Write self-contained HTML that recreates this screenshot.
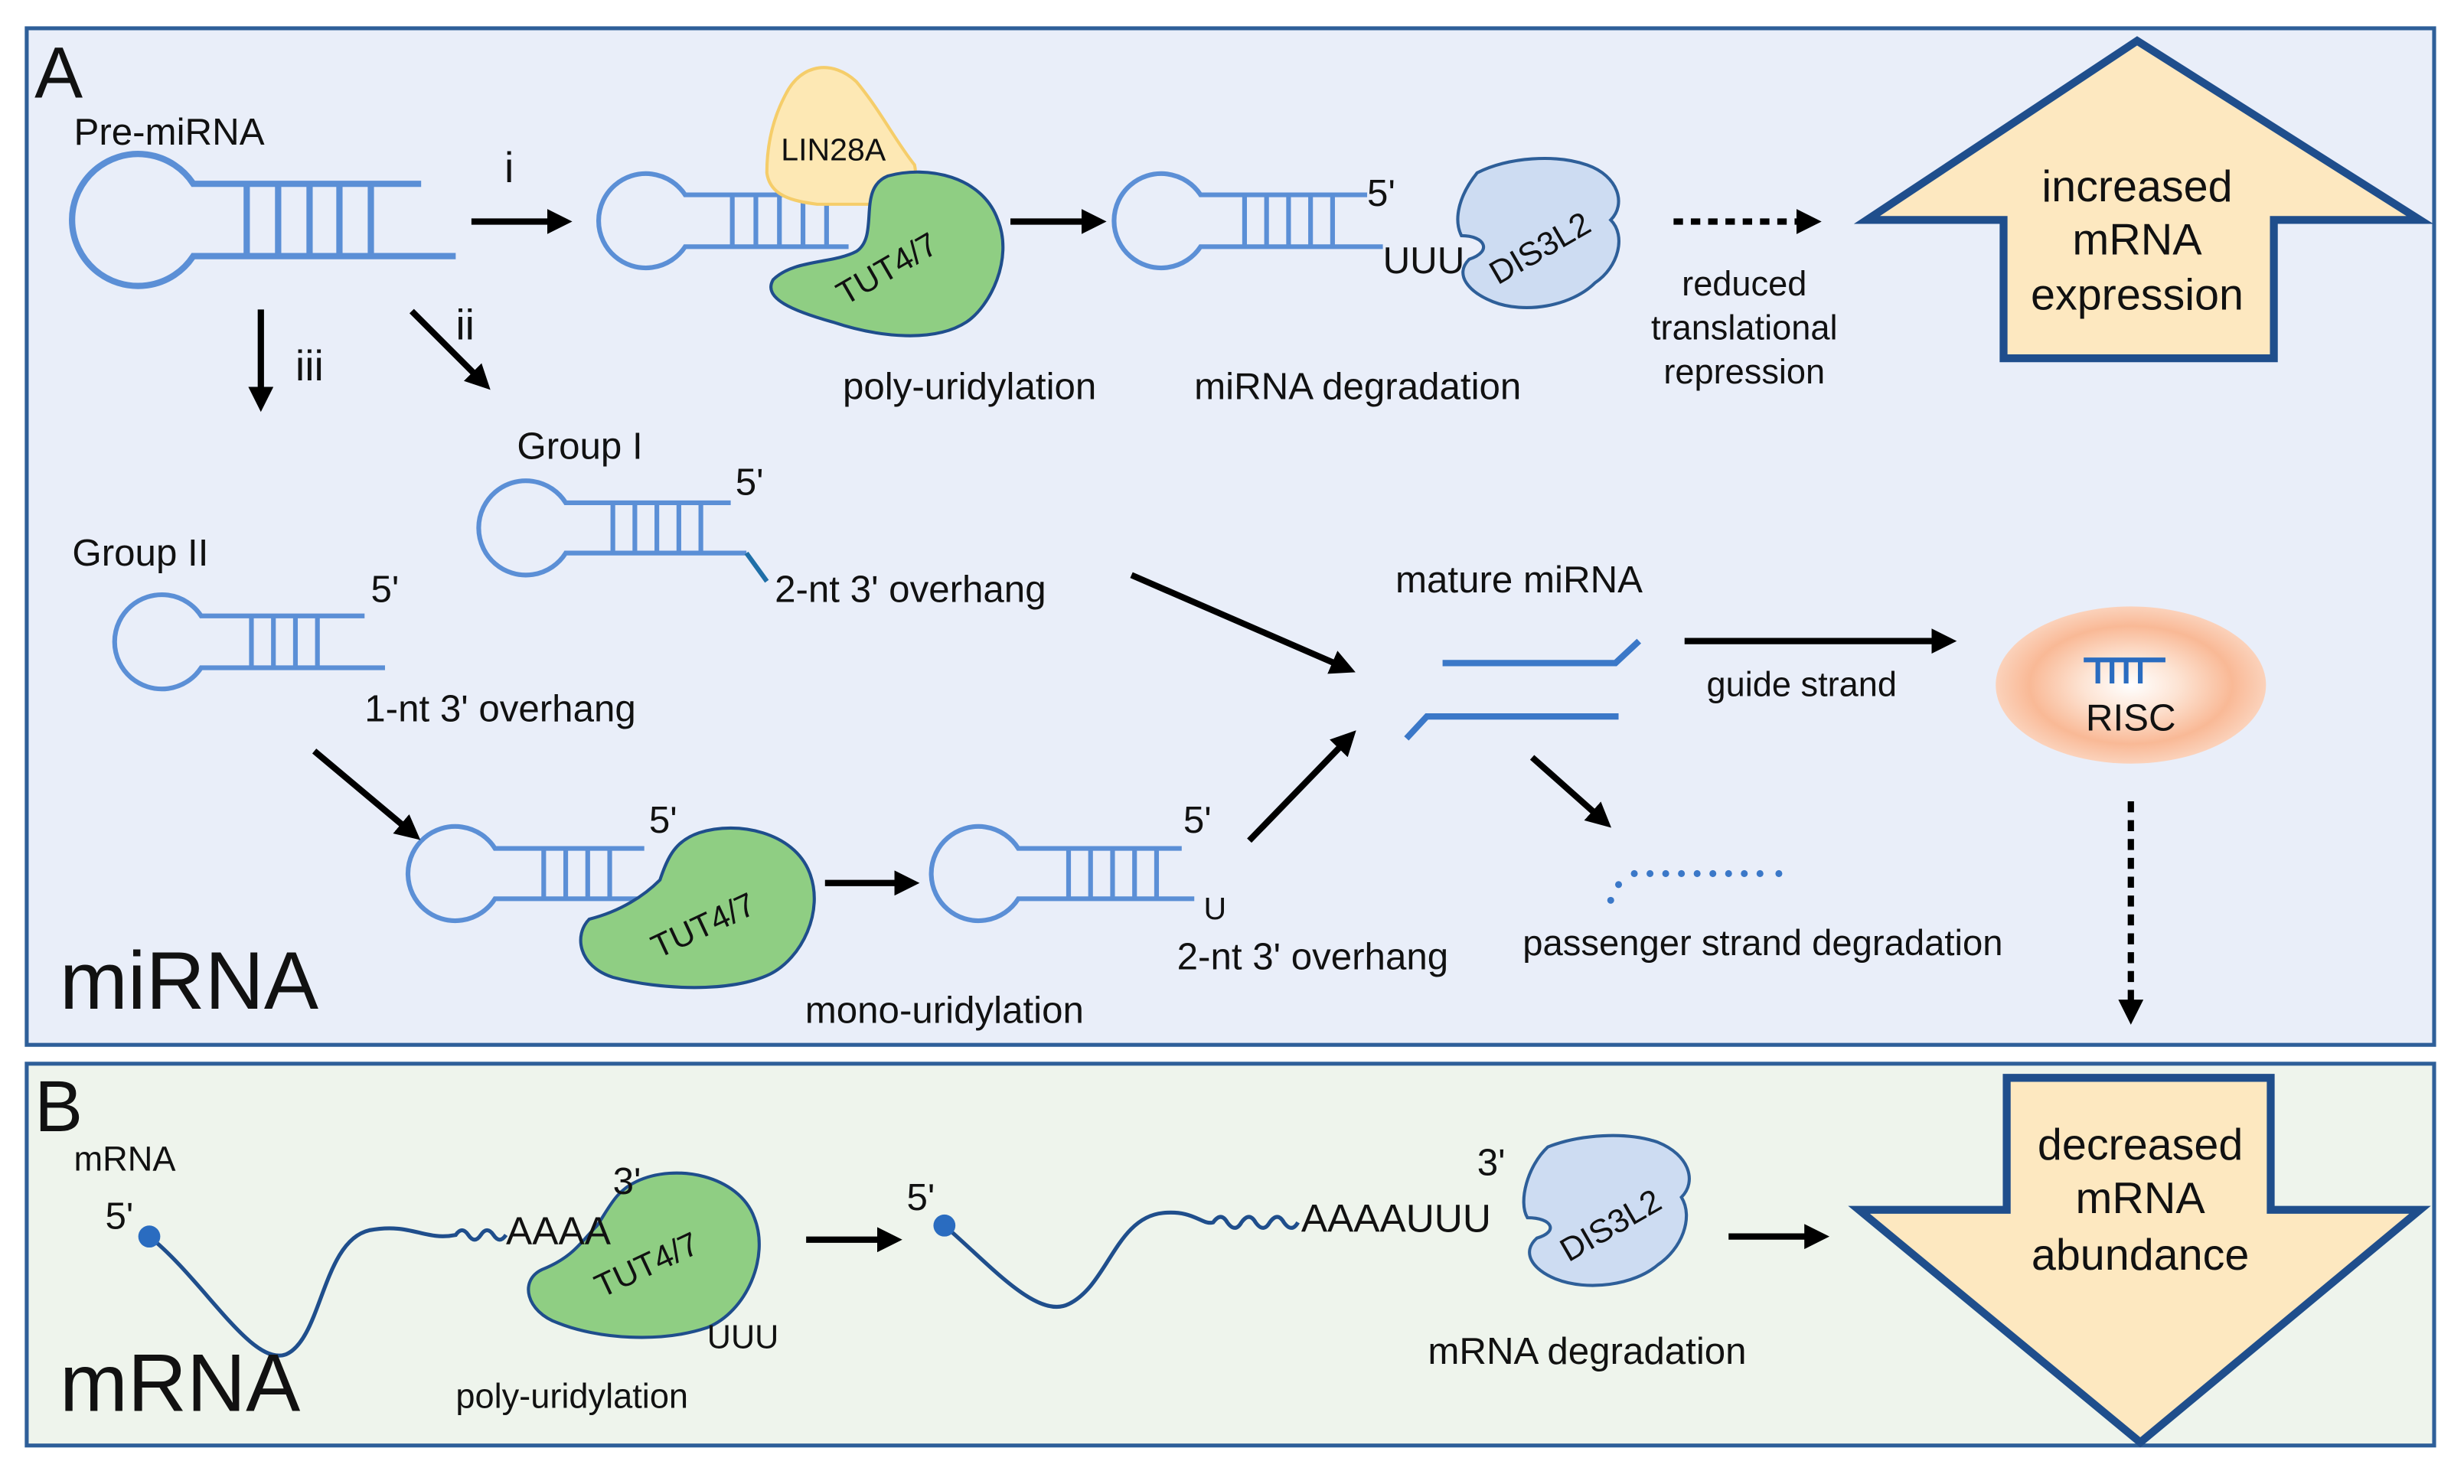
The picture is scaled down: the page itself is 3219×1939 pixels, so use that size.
<!DOCTYPE html>
<html><head><meta charset="utf-8"><style>
html,body{margin:0;padding:0;background:#fff;}
svg{display:block;font-family:"Liberation Sans",Arial,sans-serif;}
</style></head><body>
<svg width="3219" height="1939" viewBox="0 0 1568 944.5" preserveAspectRatio="none" xmlns="http://www.w3.org/2000/svg">
<defs>
<marker id="ah" markerWidth="4" markerHeight="4" refX="2.2" refY="2" orient="auto" markerUnits="strokeWidth"><path d="M0,0 L4,2 L0,4 Z" fill="#000"/></marker>
<radialGradient id="risc" cx="50%" cy="50%" r="50%"><stop offset="0" stop-color="#fff"/><stop offset="0.35" stop-color="#fde4d4"/><stop offset="0.75" stop-color="#f9b996"/><stop offset="1" stop-color="#fbd2bb"/></radialGradient>
</defs>
<rect x="0" y="0" width="1568" height="944.5" fill="#fff"/>
<rect x="17" y="18" width="1532" height="647" fill="#e9eef9" stroke="#2e5f99" stroke-width="2.5"/>
<rect x="17" y="677" width="1532" height="243" fill="#eef4ec" stroke="#2e5f99" stroke-width="2.5"/>

<g font-size="24" fill="#111">
<text x="22" y="62" font-size="46">A</text>
<text x="47" y="92">Pre-miRNA</text>
<text x="321" y="116" font-size="27">i</text>
<text x="290" y="216" font-size="27">ii</text>
<text x="188" y="242" font-size="27">iii</text>
</g>

<g fill="none" stroke="#5b8fd6" stroke-width="4">
<path d="M268,117 H123 A42,42 0 1 0 123,163 H290"/>
<path d="M157,117V163M177,117V163M197,117V163M216,117V163M236,117V163"/>
<path d="M560,124 H436 A30,30 0 1 0 436,157 H540" stroke-width="3"/>
<path d="M466,124V157M481,124V157M496,124V157M511,124V157M526,124V157" stroke-width="3"/>
<path d="M870,124 H764 A30,30 0 1 0 764,157 H880" stroke-width="3"/>
<path d="M792,124V157M806,124V157M820,124V157M834,124V157M848,124V157" stroke-width="3"/>
<path d="M465,320 H360 A30,30 0 1 0 360,352 H475" stroke-width="3"/>
<path d="M390,320V352M404,320V352M418,320V352M432,320V352M446,320V352" stroke-width="3"/>
<path d="M232,392 H128 A30,30 0 1 0 128,425 H245" stroke-width="3"/>
<path d="M160,392V425M174,392V425M188,392V425M202,392V425" stroke-width="3"/>
<path d="M410,540 H315 A30,30 0 1 0 315,572 H440" stroke-width="3"/>
<path d="M346,540V572M360,540V572M374,540V572M388,540V572" stroke-width="3"/>
<path d="M752,540 H648 A30,30 0 1 0 648,572 H760" stroke-width="3"/>
<path d="M680,540V572M694,540V572M708,540V572M722,540V572M736,540V572" stroke-width="3"/>
</g>
<path d="M475,352 L488,370" stroke="#1f6fa8" stroke-width="3" fill="none"/>

<path d="M500,60 C510,40 530,38 545,52 C560,70 570,90 582,105 C585,118 575,128 560,130 L520,130 C505,128 490,125 488,110 C488,92 492,75 500,60 Z" fill="#fde8b4" stroke="#f5cd6a" stroke-width="2"/>
<text x="497" y="102" font-size="20" fill="#111">LIN28A</text>
<path d="M565,112 C590,105 625,112 635,140 C645,165 630,195 615,205 C595,218 560,215 530,205 C505,198 485,190 492,178 C505,165 530,168 545,160 C560,150 545,120 565,112 Z" fill="#8fce83" stroke="#1f4e8c" stroke-width="2"/>
<text x="565" y="178" font-size="21" fill="#111" text-anchor="middle" transform="rotate(-30 565 172)">TUT4/7</text>

<path d="M940,110 C960,100 990,98 1010,105 C1030,112 1035,130 1025,140 C1035,150 1030,170 1015,180 C1000,195 970,200 950,192 C935,186 925,175 935,165 C950,160 945,150 930,150 C925,140 928,125 940,110 Z" fill="#cddcf2" stroke="#2e5f99" stroke-width="2"/>
<text x="980" y="165" font-size="21" fill="#111" text-anchor="middle" transform="rotate(-30 980 158)">DIS3L2</text>

<path d="M445,530 C470,522 505,530 515,555 C525,580 510,610 490,620 C465,632 420,630 390,622 C368,615 365,595 375,585 C395,580 410,570 420,560 C425,545 430,535 445,530 Z" fill="#8fce83" stroke="#1f4e8c" stroke-width="2"/>
<text x="448" y="596" font-size="21" fill="#111" text-anchor="middle" transform="rotate(-25 448 590)">TUT4/7</text>

<g font-size="24" fill="#111">
<text x="870" y="131">5'</text>
<text x="880" y="174">UUU</text>
<text x="1110" y="188" font-size="22" text-anchor="middle">reduced</text>
<text x="1110" y="216" font-size="22" text-anchor="middle">translational</text>
<text x="1110" y="244" font-size="22" text-anchor="middle">repression</text>
<text x="617" y="254" text-anchor="middle">poly-uridylation</text>
<text x="864" y="254" text-anchor="middle">miRNA degradation</text>
<text x="329" y="292">Group I</text>
<text x="468" y="315">5'</text>
<text x="493" y="383">2-nt 3' overhang</text>
<text x="46" y="360">Group II</text>
<text x="236" y="383">5'</text>
<text x="232" y="459">1-nt 3' overhang</text>
<text x="413" y="530">5'</text>
<text x="753" y="530">5'</text>
<text x="766" y="585" font-size="20">U</text>
<text x="749" y="617">2-nt 3' overhang</text>
<text x="601" y="651" text-anchor="middle">mono-uridylation</text>
<text x="38" y="642" font-size="52">miRNA</text>
<text x="888" y="377">mature miRNA</text>
<text x="1086" y="443" font-size="22">guide strand</text>
<text x="969" y="608" font-size="23">passenger strand degradation</text>
</g>

<polygon points="1360,26 1540,140 1447,140 1447,228 1275,228 1275,140 1188,140" fill="#fde8c0" stroke="#1f4e8c" stroke-width="5"/>
<g font-size="28" fill="#111" text-anchor="middle">
<text x="1360" y="128">increased</text><text x="1360" y="162">mRNA</text><text x="1360" y="197">expression</text>
</g>

<g stroke="#000" stroke-width="4" fill="none" marker-end="url(#ah)">
<path d="M300,141H357"/>
<path d="M643,141H697"/>
<path d="M166,197V255"/>
<path d="M262,198L307,243"/>
<path d="M720,366L856,425"/>
<path d="M200,478L262,530"/>
<path d="M525,562H578"/>
<path d="M795,535L858,470"/>
<path d="M1072,408H1238"/>
<path d="M975,482L1020,522"/>
<path d="M513,789H567"/>
<path d="M1100,787H1157"/>
<path d="M1065,141H1152" stroke-dasharray="6,5"/>
<path d="M1356,510V645" stroke-dasharray="7,5"/>
</g>

<g stroke="#3b78c8" stroke-width="4" fill="none">
<path d="M918,422H1028L1043,408"/>
<path d="M895,470L908,456H1030"/>
</g>
<g fill="#3b78c8">
<circle cx="1025" cy="573" r="2.2"/><circle cx="1030" cy="563" r="2.2"/>
<circle cx="1040" cy="556" r="2.2"/><circle cx="1050" cy="556" r="2.2"/><circle cx="1060" cy="556" r="2.2"/><circle cx="1070" cy="556" r="2.2"/><circle cx="1080" cy="556" r="2.2"/><circle cx="1090" cy="556" r="2.2"/><circle cx="1100" cy="556" r="2.2"/><circle cx="1110" cy="556" r="2.2"/><circle cx="1120" cy="556" r="2.2"/><circle cx="1132" cy="556" r="2.2"/>
</g>
<ellipse cx="1356" cy="436" rx="86" ry="50" fill="url(#risc)"/>
<path d="M1326,420H1378M1335,420V435M1344,420V435M1353,420V435M1362,420V435" stroke="#2a6cc0" stroke-width="3" fill="none"/>
<text x="1356" y="465" font-size="24" text-anchor="middle" fill="#111">RISC</text>

<g stroke="#1f4e8c" stroke-width="2.5" fill="none">
<path d="M95,787 C130,815 160,870 182,862 C205,852 205,790 235,783 C262,778 270,790 290,786 q4,-6 8,0 q4,6 8,0 q4,-6 8,0 q4,6 8,0"/>
<path d="M601,780 C630,805 660,840 680,830 C705,818 710,775 740,772 C760,770 765,780 772,778 q5,-7 9,0 q5,7 9,0 q5,-7 9,0 q5,7 9,0 q5,-7 9,0 q5,7 9,0"/>
</g>
<circle cx="95" cy="787" r="7" fill="#2a6cc0"/>
<circle cx="601" cy="780" r="7" fill="#2a6cc0"/>
<path d="M405,752 C430,740 470,748 480,775 C490,800 475,835 450,845 C420,855 380,852 355,842 C335,835 330,815 345,808 C365,800 370,790 380,780 C388,768 392,758 405,752 Z" fill="#8fce83" stroke="#1f4e8c" stroke-width="2"/>
<text x="412" y="812" font-size="21" fill="#111" text-anchor="middle" transform="rotate(-25 412 806)">TUT4/7</text>
<path d="M985,730 C1005,722 1035,720 1055,727 C1075,735 1080,752 1070,762 C1078,775 1070,795 1055,805 C1040,818 1010,822 990,814 C975,808 968,797 978,788 C992,784 988,775 972,775 C966,765 972,742 985,730 Z" fill="#cddcf2" stroke="#2e5f99" stroke-width="2"/>
<text x="1025" y="787" font-size="21" fill="#111" text-anchor="middle" transform="rotate(-30 1025 780)">DIS3L2</text>

<g font-size="24" fill="#111">
<text x="22" y="720" font-size="46">B</text>
<text x="47" y="745" font-size="22">mRNA</text>
<text x="67" y="782">5'</text>
<text x="322" y="792" font-size="25">AAAA</text>
<text x="390" y="760">3'</text>
<text x="450" y="858" font-size="21">UUU</text>
<text x="290" y="896" font-size="22">poly-uridylation</text>
<text x="38" y="898" font-size="52">mRNA</text>
<text x="577" y="770">5'</text>
<text x="828" y="784" font-size="25">AAAAUUU</text>
<text x="940" y="748">3'</text>
<text x="1010" y="868" text-anchor="middle">mRNA degradation</text>
</g>

<polygon points="1277,686 1445,686 1445,770 1540,770 1362,918 1183,770 1277,770" fill="#fde8c0" stroke="#1f4e8c" stroke-width="5"/>
<g font-size="28" fill="#111" text-anchor="middle">
<text x="1362" y="738">decreased</text><text x="1362" y="772">mRNA</text><text x="1362" y="808">abundance</text>
</g>
</svg>
</body></html>
